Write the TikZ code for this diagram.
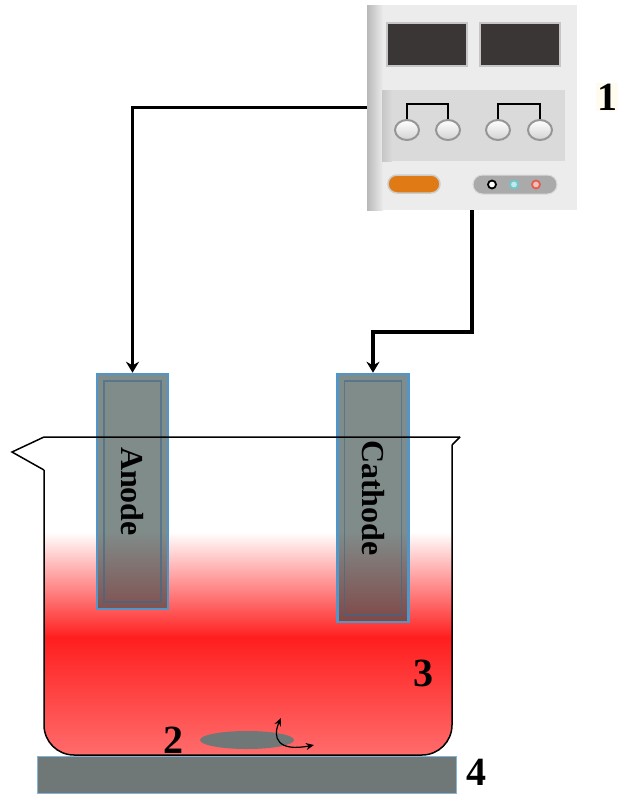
\documentclass[tikz,border=0pt]{standalone}
\usepackage{fontspec}
\setmainfont{Liberation Serif}
\usepackage{tikz}
\usetikzlibrary{arrows.meta,shapes,positioning}
\usepackage{xcolor}
\definecolor{psugray}{RGB}{236,236,236}
\definecolor{panelgray}{RGB}{218,218,218}
\definecolor{screen}{RGB}{59,54,54}
\definecolor{knobrim}{RGB}{150,150,150}
\definecolor{btnorange}{RGB}{224,122,20}
\definecolor{pillgray}{RGB}{170,170,170}
\definecolor{ledcyan}{RGB}{110,200,205}
\definecolor{ledred}{RGB}{225,95,80}
\definecolor{elgray}{RGB}{60,78,76}
\definecolor{elblue}{RGB}{80,150,200}
\definecolor{liqred}{RGB}{255,30,30}
\definecolor{liqpink}{RGB}{255,108,108}
\definecolor{platecol}{RGB}{111,120,119}
\definecolor{cream}{RGB}{255,251,238}
\tikzstyle{wire} = [line width=3.5pt, -{Stealth[length=11pt,width=13pt]}]
\tikzstyle{knob} = [ellipse, minimum width=24, minimum height=20, inner sep=0pt, draw=knobrim, line width=2pt, top color=white, bottom color=gray!35]
\tikzstyle{display} = [rectangle, minimum width=80, minimum height=43, fill=screen, draw=gray!45, line width=2pt]
\tikzstyle{electrode} = [rectangle, minimum width=71, minimum height=235, fill=elgray, fill opacity=0.65, draw=elblue, line width=2.5pt]
\tikzstyle{bevel} = [rectangle, draw=elblue!70!black, line width=1.5pt, draw opacity=0.6]
\tikzstyle{eltext} = [font=\fontsize{32}{32}\selectfont\bfseries, text=black]
\tikzstyle{numlabel} = [font=\fontsize{40}{40}\selectfont\bfseries, inner sep=1pt]

\begin{document}
\begin{tikzpicture}[x=1pt, y=-1pt]
\useasboundingbox (0,0) rectangle (619,795);

% Power supply
\node[rectangle, minimum width=210, minimum height=205, fill=psugray] (psu) at (472,107.5) {};
\shade[left color=gray!55, right color=psugray] (367,5) rectangle (383,210);
\node[display] (scr1) at (427,44.5) {};
\node[display] (scr2) at (520,44.5) {};
\node[rectangle, minimum width=183, minimum height=71, fill=panelgray] (panel) at (473.5,125.5) {};
\shade[left color=gray!45, right color=panelgray] (382,90) rectangle (392,161);
\node[knob] (k1) at (407,130) {};
\node[knob] (k2) at (448,130) {};
\node[knob] (k3) at (498,130) {};
\node[knob] (k4) at (540,130) {};
\draw[line width=1.5pt] (k1.north) -- ++(0,-15) -| (k2.north);
\draw[line width=1.5pt] (k3.north) -- ++(0,-15) -| (k4.north);
\node[rectangle, rounded corners=9pt, minimum width=52, minimum height=18, fill=btnorange, draw=gray!40, line width=1.5pt] (power) at (414,184) {};
\node[rectangle, rounded corners=9.5pt, minimum width=84, minimum height=19, fill=pillgray, draw=gray!30, line width=1pt] (leds) at (515,184.5) {};
\node[circle, minimum size=8, inner sep=0pt, fill=white, draw=black, line width=1.8pt] (led1) at (492,184.5) {};
\node[circle, minimum size=8, inner sep=0pt, fill=ledcyan!40, draw=ledcyan, line width=1.8pt] (led2) at (514,184.5) {};
\node[circle, minimum size=8, inner sep=0pt, fill=ledred!40, draw=ledred, line width=1.8pt] (led3) at (536,184.5) {};
\node[numlabel, fill=cream] (one) at (607,97) {1};

% Liquid in the beaker, white to red, then red to pink
\begin{scope}
\clip[rounded corners=30] (44,437) -- (44,755) -- (452,755) -- (452,437) -- cycle;
\shade[top color=white, bottom color=liqred] (44,532) rectangle (452,638);
\shade[top color=liqred, bottom color=liqpink] (44,637) rectangle (452,755);
\end{scope}

% Electrodes
\node[electrode] (anode) at (132.5,491.5) {};
\node[bevel, minimum width=57, minimum height=221] at (anode) {};
\node[eltext, rotate=-90] at (anode) {Anode};
\node[electrode, minimum height=248] (cathode) at (373,498) {};
\node[bevel, minimum width=57, minimum height=234] at (cathode) {};
\node[eltext, rotate=-90] at (cathode) {Cathode};

% Wires
\coordinate (bend) at (373,332);
\draw[wire] (psu.west) -| (anode.north);
\draw[wire] (psu.south) |- (bend) -- (cathode.north);

% Beaker
\draw[line width=1.5pt, line join=miter] (460,437) -- (44,437) -- (12,452) -- (44,470);
\draw[line width=1.5pt, rounded corners=30] (44,470) -- (44,755) -- (452,755) -- (452,445);
\draw[line width=1.5pt] (452,445) -- (460,437);

% Sample and stirring
\node[ellipse, minimum width=94, minimum height=18, fill=platecol, inner sep=0pt] (sample) at (247,740) {};
\draw[line width=1.2pt, {Stealth[length=8pt,width=7pt]}-{Stealth[length=8pt,width=7pt]}] (281,718) .. controls (272,738) and (278,752) .. (314,745);

% Hot plate
\node[rectangle, minimum width=419, minimum height=37, fill=platecol, draw=elblue!70, line width=1pt, anchor=north west] (plate) at (37,756) {};

% Labels
\node[numlabel] (two) at (173,740) {2};
\node[numlabel] (three) at (423,673) {3};
\node[numlabel] (four) at (476,772) {4};
\end{tikzpicture}
\end{document}
